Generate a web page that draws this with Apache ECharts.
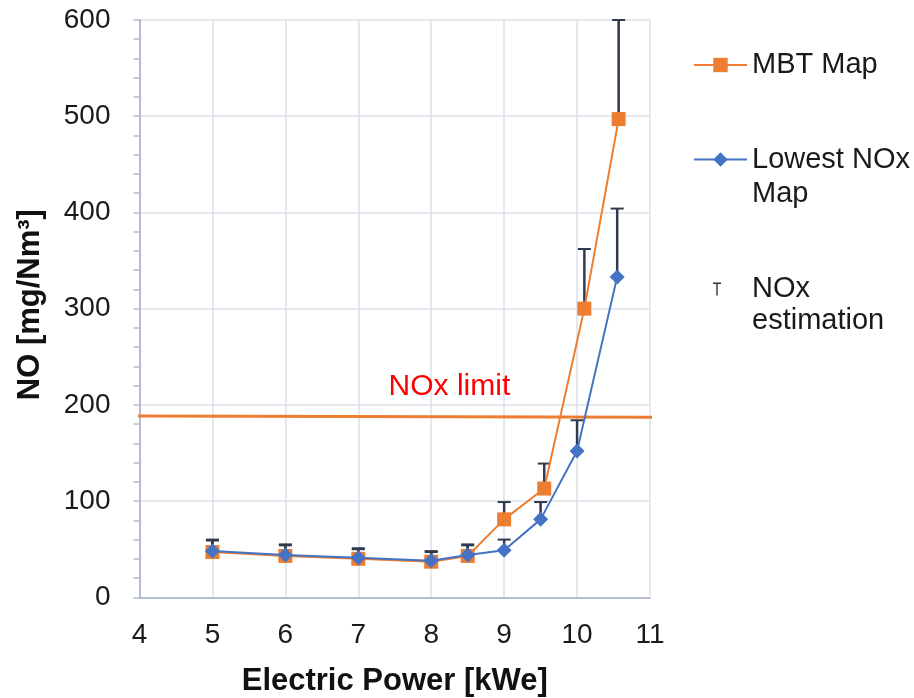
<!DOCTYPE html>
<html>
<head>
<meta charset="utf-8">
<title>NO emissions vs electric power</title>
<script src="https://cdn.jsdelivr.net/npm/echarts@6/dist/echarts.min.js"></script>
<style>
  html, body { margin: 0; padding: 0; background: #ffffff; }
  #chart { width: 914px; height: 698px; }
</style>
</head>
<body>
<div id="chart"></div>
<script>
// Electric power [kWe] of each operating point
const mbtPower = [5, 6, 7, 8, 8.5, 9, 9.55, 10.1, 10.57];
const lowPower = [5, 6, 7, 8, 8.5, 9, 9.5, 10, 10.55];

// Measured NO [mg/Nm3]
const mbtNO = [47, 43, 40, 37, 43, 81, 113, 300, 497];
const lowNO = [48, 44, 41, 38, 44, 49, 81, 152, 333];

// Upper end of the NOx estimation bars [mg/Nm3]
const mbtErrTop = [59, 54, 50, 47, 54, 99, 139, 362, 600];
const lowErrTop = [60, 55, 51, 48, 55, 60, 99, 184, 404];

// NOx limit line (start / end)
const limitPower = [3.9, 11.03];
const limitNO = [188.5, 187];
const limitLabelAt = [8.25, 219];

// Axis ticks
const xTicks = { min: 4, max: 11, step: 1 };
const yTicks = { min: 0, max: 600, step: 100 };

const FONT = 'Liberation Sans, Arial, sans-serif';
const ORANGE = '#ED7D31';
const BLUE = '#4472C4';
const ERR = '#2f3b4c';
const GRID = '#dde1ea';
const AXIS = '#b4bdcd';

const pairs = (xs, ys) => xs.map((x, i) => [x, ys[i]]);
const triples = (xs, ys, ts) => xs.map((x, i) => [x, ys[i], ts[i]]);

function renderErrorBar(params, api) {
  const x = api.value(0);
  const base = api.coord([x, api.value(1)]);
  const top = api.coord([x, api.value(2)]);
  const half = 6.5;
  return {
    type: 'group',
    children: [
      { type: 'line', shape: { x1: base[0], y1: base[1], x2: top[0], y2: top[1] },
        style: { stroke: ERR, lineWidth: 2.5 } },
      { type: 'line', shape: { x1: top[0] - half, y1: top[1], x2: top[0] + half, y2: top[1] },
        style: { stroke: ERR, lineWidth: 2 } }
    ]
  };
}

const chart = echarts.init(document.getElementById('chart'), null, { renderer: 'canvas' });

const legendText = { fontFamily: FONT, fontSize: 29, color: '#1a1a1a', lineHeight: 33 };

// Two-line legend entries: a leading empty line keeps the first text line level with the icon
chart.setOption({
  animation: false,
  backgroundColor: '#ffffff',
  grid: { left: 139.5, top: 20, width: 510.5, height: 577.3, containLabel: false, outerBoundsMode: 'none' },
  legend: [
    {
      data: ['MBT Map'], left: 693, top: 48.5, padding: 0,
      itemWidth: 53, itemHeight: 18, selectedMode: false,
      textStyle: legendText
    },
    {
      data: ['Lowest NOx Map'], left: 693, top: 108.5, padding: 0,
      itemWidth: 53, itemHeight: 18, selectedMode: false,
      formatter: () => '\nLowest NOx\nMap',
      textStyle: Object.assign({}, legendText, { lineHeight: 34 })
    },
    {
      data: [{ name: 'NOx estimation', icon: 'path://M0,0H8V1.4H4.7V13H3.3V1.4H0Z', itemStyle: { color: '#333333' } }],
      left: 713, top: 241, padding: 0,
      itemWidth: 8, itemHeight: 13, selectedMode: false,
      formatter: () => '\nNOx\nestimation',
      textStyle: Object.assign({}, legendText, { lineHeight: 32, padding: [0, 0, 0, 26] })
    }
  ],
  xAxis: {
    type: 'value', min: xTicks.min, max: xTicks.max, interval: xTicks.step,
    name: 'Electric Power [kWe]', nameLocation: 'middle', nameGap: 69,
    nameTextStyle: { fontFamily: FONT, fontSize: 31, fontWeight: 'bold', color: '#111111' },
    axisLine: { show: true, lineStyle: { color: AXIS, width: 2 } },
    axisTick: { show: false },
    axisLabel: { fontFamily: FONT, fontSize: 28, color: '#1a1a1a', margin: 24 },
    splitLine: { show: true, lineStyle: { color: GRID, width: 1.5 } }
  },
  yAxis: {
    type: 'value', min: yTicks.min, max: yTicks.max, interval: yTicks.step,
    name: 'NO [mg/Nm³]', nameLocation: 'middle', nameGap: 94, nameRotate: 90,
    nameTextStyle: { fontFamily: FONT, fontSize: 31, fontWeight: 'bold', color: '#111111', padding: [0, 0, 0, 8] },
    axisLine: { show: true, lineStyle: { color: AXIS, width: 2 } },
    axisTick: { show: true, inside: false, length: 6, lineStyle: { color: AXIS, width: 1.5 } },
    minorTick: { show: true, splitNumber: 5, length: 6, lineStyle: { color: AXIS, width: 1.5 } },
    axisLabel: { fontFamily: FONT, fontSize: 28, color: '#1a1a1a', margin: 29 },
    splitLine: { show: true, lineStyle: { color: GRID, width: 1.5 } }
  },
  series: [
    {
      name: 'NOx limit', type: 'line', data: pairs(limitPower, limitNO),
      symbol: 'none', clip: false, z: 1,
      lineStyle: { color: ORANGE, width: 3 },
      markPoint: {
        symbol: 'circle', symbolSize: 1,
        itemStyle: { color: 'rgba(0,0,0,0)' },
        label: { show: true, position: 'inside', formatter: 'NOx limit',
                 fontFamily: FONT, fontSize: 30, color: '#ff0000' },
        data: [{ coord: limitLabelAt }]
      }
    },
    {
      name: 'NOx estimation', type: 'custom', z: 1,
      renderItem: renderErrorBar, encode: { x: 0, y: [1, 2] },
      itemStyle: { color: '#333333' },
      data: triples(mbtPower, mbtNO, mbtErrTop)
    },
    {
      name: 'NOx estimation', type: 'custom', z: 1,
      renderItem: renderErrorBar, encode: { x: 0, y: [1, 2] },
      itemStyle: { color: '#333333' },
      data: triples(lowPower, lowNO, lowErrTop)
    },
    {
      name: 'MBT Map', type: 'line', data: pairs(mbtPower, mbtNO), z: 3,
      symbol: 'rect', symbolSize: 14,
      itemStyle: { color: ORANGE },
      lineStyle: { color: ORANGE, width: 2 }
    },
    {
      name: 'Lowest NOx Map', type: 'line', data: pairs(lowPower, lowNO), z: 4,
      symbol: 'diamond', symbolSize: 15,
      itemStyle: { color: BLUE },
      lineStyle: { color: BLUE, width: 2 }
    }
  ]
});
</script>
</body>
</html>
